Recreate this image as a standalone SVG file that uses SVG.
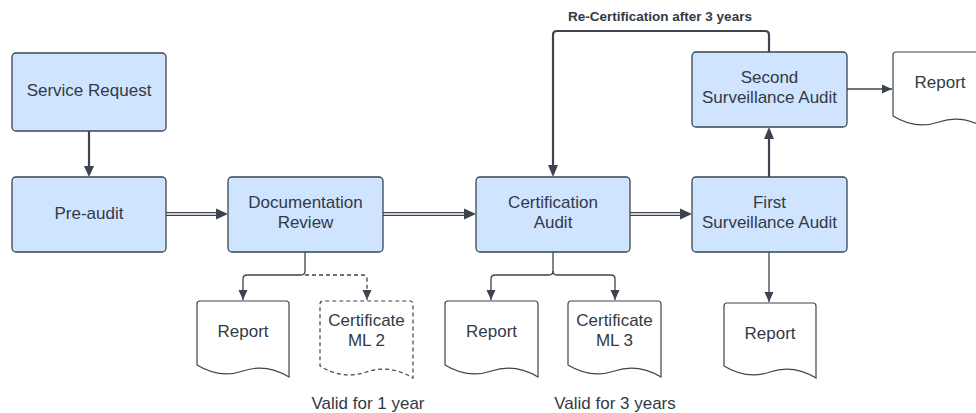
<svg xmlns="http://www.w3.org/2000/svg" width="976" height="413" viewBox="0 0 976 413">
  <style>
    .box { fill: #cfe4ff; stroke: #3d4450; stroke-width: 1.3; }
    .doc { fill: #ffffff; stroke: #3d4450; stroke-width: 1.2; }
    .dashed { stroke-dasharray: 4 3; }
    .t { font-family: "Liberation Sans", Arial, sans-serif; font-size: 17px; fill: #333a45; text-anchor: middle; }
    .lbl { font-family: "Liberation Sans", Arial, sans-serif; font-size: 13.5px; font-weight: bold; fill: #333a45; text-anchor: middle; }
    .ln { fill: none; stroke: #3d4450; stroke-width: 1.3; }
    .thick { fill: none; stroke: #3d4450; stroke-width: 2.2; }
    .dbl-outer { fill: none; stroke: #3d4450; stroke-width: 4; }
    .dbl-inner { fill: none; stroke: #ffffff; stroke-width: 1.4; }
  </style>
  <defs>
    <marker id="ah" viewBox="0 0 10 10" refX="10" refY="5" markerWidth="10" markerHeight="10" markerUnits="userSpaceOnUse" orient="auto">
      <path d="M0,0.5 L10,5 L0,9.5 Z" fill="#3d4450"/>
    </marker>
  </defs>

  <rect width="976" height="413" fill="#ffffff"/>

  <!-- connectors -->
  <g id="connectors">
    <!-- Service Request -> Pre-audit -->
    <path class="thick" d="M89,131 V167" />
    <path d="M84,166 L89,177 L94,166 Z" fill="#3d4450"/>

    <!-- double-line flows -->
    <path class="dbl-outer" d="M166,214 H217" />
    <path class="dbl-inner" d="M166,214 H217" />
    <path d="M216,208.5 L228,214 L216,219.5 Z" fill="#3d4450"/>

    <path class="dbl-outer" d="M383,214 H465" />
    <path class="dbl-inner" d="M383,214 H465" />
    <path d="M464,208.5 L476,214 L464,219.5 Z" fill="#3d4450"/>

    <path class="dbl-outer" d="M630,214 H681" />
    <path class="dbl-inner" d="M630,214 H681" />
    <path d="M680,208.5 L692,214 L680,219.5 Z" fill="#3d4450"/>

    <!-- First -> Second surveillance -->
    <path class="thick" d="M769,177 V138" />
    <path d="M764,139 L769,127 L774,139 Z" fill="#3d4450"/>

    <!-- Re-certification loop -->
    <path class="thick" d="M769,52 V35 Q769,31 765,31 H557 Q553,31 553,35 V166" />
    <path d="M548,165 L553,177 L558,165 Z" fill="#3d4450"/>
    <text class="lbl" x="660" y="21">Re-Certification after 3 years</text>

    <!-- Second -> Report -->
    <path class="ln" d="M847,89 H892" marker-end="url(#ah)"/>

    <!-- First -> Report -->
    <path class="ln" d="M769,252 V302" marker-end="url(#ah)"/>

    <!-- Documentation Review outputs -->
    <path class="ln" d="M305,252 V271 Q305,275 301,275 H247 Q243,275 243,279 V300" marker-end="url(#ah)"/>
    <path class="ln dashed" d="M305,275 H363 Q367,275 367,279 V300" marker-end="url(#ah)"/>

    <!-- Certification Audit outputs -->
    <path class="ln" d="M553,252 V271 Q553,275 549,275 H495 Q491,275 491,279 V300" marker-end="url(#ah)"/>
    <path class="ln" d="M553,271 Q553,275 557,275 H611 Q615,275 615,279 V300" marker-end="url(#ah)"/>
  </g>

  <!-- process nodes -->
  <g id="service-request">
    <rect class="box" x="12" y="53" width="154" height="78" rx="4"/>
    <text class="t" x="89" y="96">Service Request</text>
  </g>
  <g id="pre-audit">
    <rect class="box" x="12" y="177" width="154" height="75" rx="4"/>
    <text class="t" x="89" y="219">Pre-audit</text>
  </g>
  <g id="documentation-review">
    <rect class="box" x="228" y="177" width="155" height="75" rx="4"/>
    <text class="t" x="305.5" y="208">Documentation</text>
    <text class="t" x="305.5" y="228">Review</text>
  </g>
  <g id="certification-audit">
    <rect class="box" x="476" y="177" width="154" height="75" rx="4"/>
    <text class="t" x="553" y="208">Certification</text>
    <text class="t" x="553" y="228">Audit</text>
  </g>
  <g id="first-surveillance">
    <rect class="box" x="692" y="177" width="155" height="75" rx="4"/>
    <text class="t" x="769.5" y="208">First</text>
    <text class="t" x="769.5" y="228">Surveillance Audit</text>
  </g>
  <g id="second-surveillance">
    <rect class="box" x="692" y="52" width="155" height="75" rx="4"/>
    <text class="t" x="769.5" y="83">Second</text>
    <text class="t" x="769.5" y="103">Surveillance Audit</text>
  </g>

  <!-- document outputs -->
  <g id="report-doc-review">
    <path class="doc" d="M197,304 Q197,301 200,301 H286 Q289,301 289,304 V377 Q266,363 243,371 Q220,379 197,365 Z"/>
    <text class="t" x="243" y="337">Report</text>
  </g>
  <g id="certificate-ml2">
    <path class="doc dashed" d="M320,304 Q320,301 323,301 H410 Q413,301 413,304 V378 Q390,364 366.5,372 Q343,380 320,366 Z"/>
    <text class="t" x="366.5" y="326">Certificate</text>
    <text class="t" x="366.5" y="346">ML 2</text>
    <text class="t" x="368" y="409">Valid for 1 year</text>
  </g>
  <g id="report-certification">
    <path class="doc" d="M445,304 Q445,301 448,301 H535 Q538,301 538,304 V377 Q515,363 491.5,371 Q468,379 445,365 Z"/>
    <text class="t" x="491.5" y="337">Report</text>
  </g>
  <g id="certificate-ml3">
    <path class="doc" d="M568,304 Q568,301 571,301 H658 Q661,301 661,304 V377 Q638,363 614.5,371 Q591,379 568,365 Z"/>
    <text class="t" x="614.5" y="326">Certificate</text>
    <text class="t" x="614.5" y="346">ML 3</text>
    <text class="t" x="615" y="409">Valid for 3 years</text>
  </g>
  <g id="report-first">
    <path class="doc" d="M724,306 Q724,303 727,303 H813 Q816,303 816,306 V378 Q793,364 770,372 Q747,380 724,366 Z"/>
    <text class="t" x="770" y="339">Report</text>
  </g>
  <g id="report-second">
    <path class="doc" d="M893,55 Q893,52 896,52 H982 Q985,52 985,55 V128 Q962,114 939,122 Q916,130 893,116 Z"/>
    <text class="t" x="940" y="88">Report</text>
  </g>
</svg>
